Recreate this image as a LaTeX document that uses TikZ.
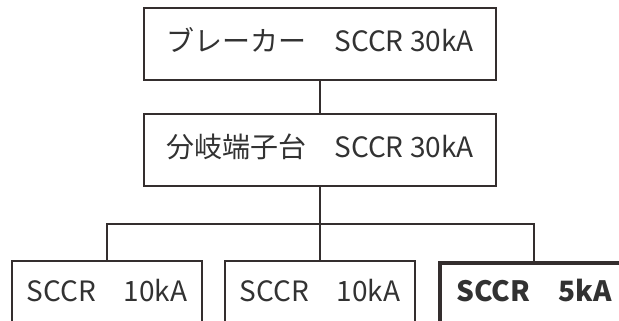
\documentclass[tikz,border=0pt]{standalone}
\usepackage{fontspec}
\setmainfont{Noto Sans CJK JP}
\definecolor{inkline}{RGB}{52,46,46}
\definecolor{inktext}{RGB}{50,50,50}
\begin{document}
\begin{tikzpicture}[x=1pt,y=1pt,
  box/.style={draw=inkline,line width=2.2pt,text=inktext,font=\fontsize{28}{30}\selectfont,
    inner sep=0pt,text height=20pt,text depth=5pt},
  heavybox/.style={box,line width=4.8pt,font=\fontsize{28}{30}\selectfont\bfseries},
  wire/.style={draw=inkline,line width=2.2pt}]
% page 619 x 321
\useasboundingbox (0,0) rectangle (619,321);
\clip (0,0) rectangle (619,321);
\node[box,minimum width=352,minimum height=72] (brk) at (320,277) {ブレーカー　SCCR 30kA};
\node[box,minimum width=352,minimum height=72] (term) at (320,171) {分岐端子台　SCCR 30kA};
\node[box,minimum width=190,minimum height=66] (ldA) at (107,27) {SCCR　10kA};
\node[box,minimum width=190,minimum height=66] (ldB) at (320,27) {SCCR　10kA};
\node[heavybox,minimum width=188,minimum height=62] (ldC) at (534,27) {SCCR　5kA};
\coordinate (bus) at (320,97);
\draw[wire] (brk.south) -- (term.north);
\draw[wire] (term.south) -- (ldB.north);
\draw[wire] (ldA.north) |- (bus) -| (ldC.north);
\end{tikzpicture}
\end{document}
